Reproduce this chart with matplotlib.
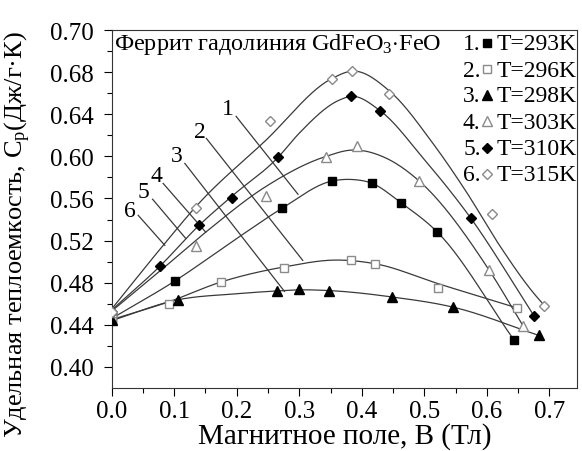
import numpy as np
import matplotlib
matplotlib.use("Agg")
import matplotlib.pyplot as plt

plt.rcParams['font.family'] = ['Liberation Serif', 'DejaVu Serif']
plt.rcParams['mathtext.fontset'] = 'custom'
plt.rcParams['mathtext.rm'] = 'Liberation Serif'
plt.rcParams['mathtext.it'] = 'Liberation Serif:italic'

# ---- data ----
labels = ["T=293K", "T=296K", "T=298K", "T=303K", "T=310K", "T=315K"]

# measured points (markers)
x1 = [0.0, 0.101, 0.272, 0.352, 0.416, 0.4625, 0.521, 0.643]
y1 = [0.445, 0.4816, 0.5505, 0.577, 0.575, 0.556, 0.528, 0.426]
x2 = [0.0, 0.092, 0.175, 0.276, 0.383, 0.4215, 0.5225, 0.6485]
y2 = [0.446, 0.460, 0.4807, 0.494, 0.5012, 0.4975, 0.475, 0.456]
x3 = [0.0, 0.106, 0.265, 0.300, 0.348, 0.449, 0.546, 0.683]
y3 = [0.445, 0.4638, 0.472, 0.4736, 0.472, 0.4664, 0.4568, 0.430]
x4 = [0.0, 0.1355, 0.247, 0.343, 0.393, 0.492, 0.604, 0.658]
y4 = [0.452, 0.5146, 0.5625, 0.599, 0.610, 0.5765, 0.4917, 0.439]
x5 = [0.0, 0.077, 0.140, 0.192, 0.266, 0.383, 0.429, 0.574, 0.676]
y5 = [0.452, 0.4956, 0.5346, 0.560, 0.599, 0.657, 0.6435, 0.5416, 0.448]
x6 = [0.0, 0.1355, 0.2525, 0.352, 0.384, 0.443, 0.6077, 0.692]
y6 = [0.452, 0.5505, 0.634, 0.673, 0.681, 0.659, 0.5454, 0.4575]

# fitted curves (knots)
cx1 = [0.0, 0.101, 0.20, 0.272, 0.352, 0.385, 0.416, 0.4625, 0.521, 0.643]
cy1 = [0.446, 0.4816, 0.522, 0.5505, 0.5765, 0.578, 0.5745, 0.556, 0.528, 0.426]
cx2 = [0.0, 0.092, 0.175, 0.276, 0.36, 0.4215, 0.5225, 0.6485]
cy2 = [0.445, 0.462, 0.4807, 0.495, 0.5015, 0.498, 0.479, 0.456]
cx3 = [0.0, 0.106, 0.20, 0.265, 0.30, 0.348, 0.449, 0.546, 0.683]
cy3 = [0.444, 0.4638, 0.4695, 0.4722, 0.4732, 0.4725, 0.4664, 0.4568, 0.430]
cx4 = [0.0, 0.075, 0.1504, 0.247, 0.343, 0.385, 0.44, 0.492, 0.604, 0.658]
cy4 = [0.453, 0.490, 0.528, 0.5715, 0.600, 0.606, 0.598, 0.5765, 0.4917, 0.439]
cx5 = [0.0, 0.077, 0.14, 0.192, 0.266, 0.30, 0.3647, 0.383, 0.429, 0.50, 0.574, 0.676]
cy5 = [0.454, 0.4956, 0.5346, 0.562, 0.599, 0.622, 0.6536, 0.657, 0.6435, 0.597, 0.5416, 0.448]
cx6 = [0.0, 0.082, 0.1363, 0.2449, 0.3535, 0.3855, 0.4446, 0.5137, 0.5671, 0.6203, 0.6735, 0.6933]
cy6 = [0.455, 0.5152, 0.5533, 0.6143, 0.6743, 0.681, 0.6619, 0.6124, 0.5664, 0.5155, 0.4711, 0.4574]

xs = [x1, x2, x3, x4, x5, x6]
ys = [y1, y2, y3, y4, y5, y6]
cxs = [cx1, cx2, cx3, cx4, cx5, cx6]
cys = [cy1, cy2, cy3, cy4, cy5, cy6]

ytick_vals = [0.40, 0.44, 0.48, 0.52, 0.56, 0.60, 0.64, 0.68, 0.72]
ytick_labels = ["0.40", "0.44", "0.48", "0.52", "0.56", "0.60", "0.64", "0.68", "0.70"]
xtick_vals = [0.0, 0.1, 0.2, 0.3, 0.4, 0.5, 0.6, 0.7]

call_text = ["1", "2", "3", "4", "5", "6"]
call_pos = [(0.186, 0.6457), (0.141, 0.6235), (0.1047, 0.6007), (0.0718, 0.5822), (0.0504, 0.5663), (0.029, 0.5489)]
call_line = [((0.199, 0.638), (0.298, 0.564)),
             ((0.1515, 0.617), (0.3056, 0.5012)),
             ((0.117, 0.5933), (0.2764, 0.4717)),
             ((0.0823, 0.5743), (0.1504, 0.528)),
             ((0.0654, 0.5593), (0.1185, 0.522)),
             ((0.0424, 0.544), (0.085, 0.5155))]


def smooth(xk, yk, n=30):
    """cubic Hermite curve through knots (for drawing the fitted line)"""
    xk = np.asarray(xk, float); yk = np.asarray(yk, float)
    h = np.diff(xk); d = np.diff(yk) / h
    m = np.empty_like(xk)
    m[0] = d[0]; m[-1] = d[-1]
    m[1:-1] = (h[1:] * d[:-1] + h[:-1] * d[1:]) / (h[:-1] + h[1:])
    X, Y = [], []
    for i in range(len(h)):
        t = np.linspace(0, 1, n, endpoint=(i == len(h) - 1))
        h00 = 2 * t**3 - 3 * t**2 + 1; h10 = t**3 - 2 * t**2 + t
        h01 = -2 * t**3 + 3 * t**2; h11 = t**3 - t**2
        X.append(xk[i] + t * h[i])
        Y.append(h00 * yk[i] + h10 * h[i] * m[i] + h01 * yk[i + 1] + h11 * h[i] * m[i + 1])
    return np.concatenate(X), np.concatenate(Y)


markers = ['s', 's', '^', '^', 'D', 'D']
filled = [True, False, True, False, True, False]
msizes = [6, 6, 7, 7, 5.5, 5.5]
LC = '#3a3a3a'

fig = plt.figure(figsize=(5.82, 4.52), dpi=100)
ax = fig.add_axes([0.1919, 0.1394, 0.8003, 0.792])

for i in range(6):
    sx, sy = smooth(cxs[i], cys[i])
    ax.plot(sx, sy, color=LC, lw=0.9, zorder=2)
    if filled[i]:
        ax.plot(xs[i], ys[i], ls='none', marker=markers[i], ms=msizes[i], mfc='black', mec='black', zorder=3)
    else:
        ax.plot(xs[i], ys[i], ls='none', marker=markers[i], ms=msizes[i], mfc='white', mec='#8a8a8a', mew=1.0, zorder=3)

for t, p, (a, b) in zip(call_text, call_pos, call_line):
    ax.text(p[0], p[1], t, fontsize=17, ha='center', va='center')
    ax.plot([a[0], b[0]], [a[1], b[1]], color=LC, lw=0.9)

ax.set_xlim(0, 0.745)
ax.set_ylim(0.38, 0.72)
ax.set_xticks(xtick_vals)
ax.set_xticklabels(["%.1f" % v for v in xtick_vals])
ax.set_xticks(np.arange(0.05, 0.75, 0.1), minor=True)
ax.set_yticks(ytick_vals)
ax.set_yticklabels(ytick_labels)
ax.set_yticks(np.arange(0.42, 0.72, 0.04), minor=True)
ax.tick_params(axis='both', which='major', direction='out', length=6, width=0.8, labelsize=18)
ax.tick_params(axis='y', which='major', pad=7)
ax.tick_params(axis='x', which='major', pad=3)
ax.tick_params(axis='both', which='minor', direction='out', length=3.5, width=0.8)
ax.tick_params(top=False, right=False)
for s in ax.spines.values():
    s.set_linewidth(0.8)
    s.set_color('#333333')

ax.set_xlabel("Магнитное поле, B (Тл)", fontsize=21, labelpad=0)
ax.set_ylabel("Удельная теплоемкость, C$_\\mathrm{p}$(Дж/г·К)", fontsize=19)
ax.yaxis.set_label_coords(-0.168, 0.43)

ax.text(0.005, 0.962, "Феррит гадолиния GdFeO$_3$$\\cdot$FeO", transform=ax.transAxes,
        fontsize=17.5, ha='left', va='center')

leg_y = [0.961, 0.888, 0.816, 0.743, 0.668, 0.595]
for i in range(6):
    ax.text(0.792, leg_y[i], "%d." % (i + 1), transform=ax.transAxes, fontsize=17, ha='right', va='center')
    if filled[i]:
        ax.plot([0.805], [leg_y[i] + 0.003], transform=ax.transAxes, marker=markers[i], ms=msizes[i] - 0.5,
                mfc='black', mec='black', ls='none', clip_on=False)
    else:
        ax.plot([0.805], [leg_y[i] + 0.003], transform=ax.transAxes, marker=markers[i], ms=msizes[i] - 0.5,
                mfc='white', mec='#8a8a8a', ls='none', clip_on=False)
    ax.text(0.826, leg_y[i], labels[i], transform=ax.transAxes, fontsize=17, ha='left', va='center')

fig.savefig("out.png", dpi=100)
